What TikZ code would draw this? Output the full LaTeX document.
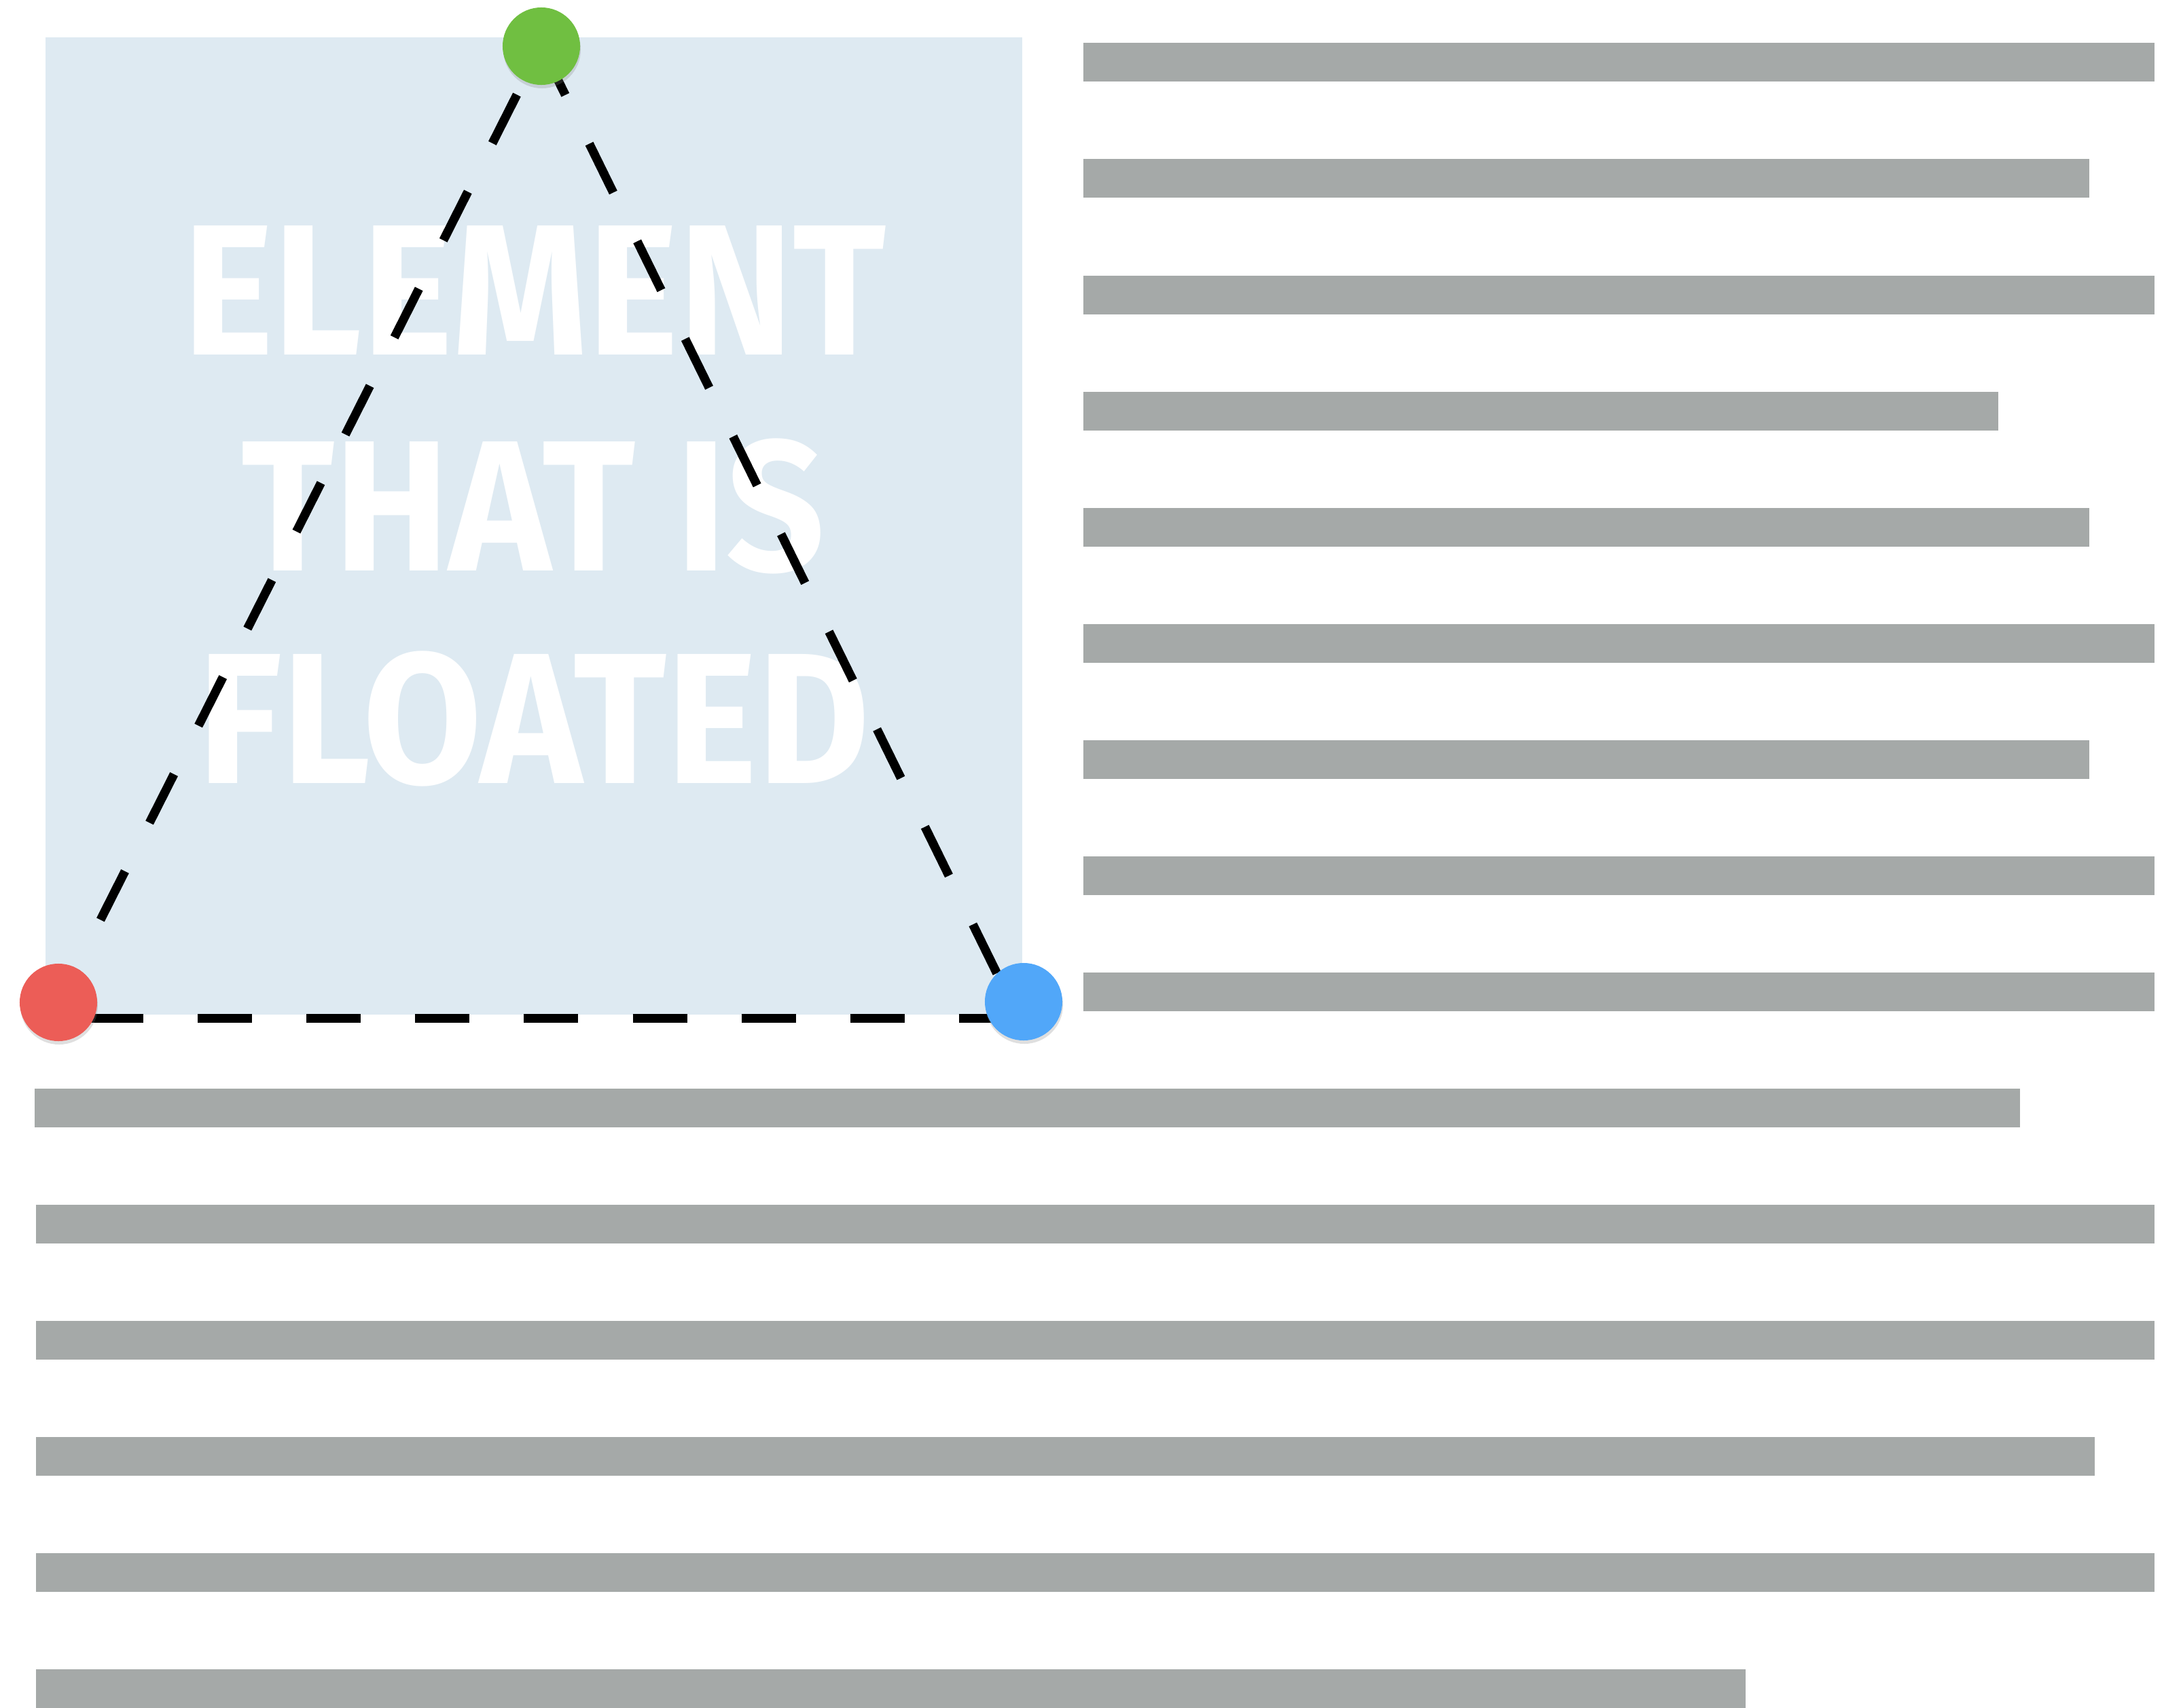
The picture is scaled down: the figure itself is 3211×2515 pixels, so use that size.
\documentclass[tikz,border=0pt]{standalone}
\usepackage{fontspec}
\newfontfamily\floatfont[FakeStretch=0.925]{Fira Sans}
\usetikzlibrary{shadows}

\definecolor{boxblue}{RGB}{222,234,242}
\definecolor{bargray}{RGB}{165,169,168}
\definecolor{dotred}{RGB}{236,93,87}
\definecolor{dotgreen}{RGB}{112,191,65}
\definecolor{dotblue}{RGB}{81,167,249}

\begin{document}
\begin{tikzpicture}[
    x=0.01cm, y=-0.01cm,
    floatbox/.style={fill=boxblue, draw=none},
    bar/.style={fill=bargray, draw=none},
    word/.style={text=white, inner sep=0pt, anchor=base, font=\floatfont\bfseries\fontsize{78}{90}\selectfont},
    dot/.style={circle, minimum size=1.14cm, inner sep=0pt, draw=none,
                drop shadow={shadow xshift=0.01cm, shadow yshift=-0.05cm, opacity=0.25}},
    guide/.style={draw=black, line width=0.13cm, dash pattern=on 0.8cm off 0.8cm}
]
\useasboundingbox (0,0) rectangle (3211,2515);

% ------------------------
% Floated element
% ------------------------
\fill[floatbox] (67,55) rectangle (1505,1494);

\node[word] (lineA) at (787,522) {ELEMENT};
\node[word] (lineB) at (785,840) {THAT IS};
\node[word] (lineC) at (786,1153) {FLOATED};

% ------------------------
% Text lines beside the float
% ------------------------
\fill[bar] (1595,63.5) rectangle (3172,120.5);
\fill[bar] (1595,234.5) rectangle (3076,291.5);
\fill[bar] (1595,405.5) rectangle (3172,462.5);
\fill[bar] (1595,576.5) rectangle (2942,633.5);
\fill[bar] (1595,747.5) rectangle (3076,804.5);
\fill[bar] (1595,918.5) rectangle (3172,975.5);
\fill[bar] (1595,1089.5) rectangle (3076,1146.5);
\fill[bar] (1595,1260.5) rectangle (3172,1317.5);
\fill[bar] (1595,1431.5) rectangle (3172,1488.5);

% ------------------------
% Text lines below the float
% ------------------------
\fill[bar] (51,1602.5) rectangle (2974,1659.5);
\fill[bar] (53,1773.5) rectangle (3172,1830.5);
\fill[bar] (53,1944.5) rectangle (3172,2001.5);
\fill[bar] (53,2115.5) rectangle (3084,2172.5);
\fill[bar] (53,2286.5) rectangle (3172,2343.5);
\fill[bar] (53,2457.5) rectangle (2570,2514.5);

% ------------------------
% Triangle between the handles
% ------------------------
\coordinate (apex) at (797,68);
\coordinate (cornerL) at (75,1499);
\coordinate (cornerR) at (1500,1499);

\draw[guide, dash phase=0.8cm] (apex) -- (cornerL);
\draw[guide] (apex) -- (cornerR);
\draw[guide, dash phase=1.04cm] (cornerL) -- (cornerR);

% Handles
\node[dot, fill=dotgreen] (top) at (apex) {};
\node[dot, fill=dotred] (left) at (86,1476) {};
\node[dot, fill=dotblue] (right) at (1507,1475) {};

\end{tikzpicture}
\end{document}
